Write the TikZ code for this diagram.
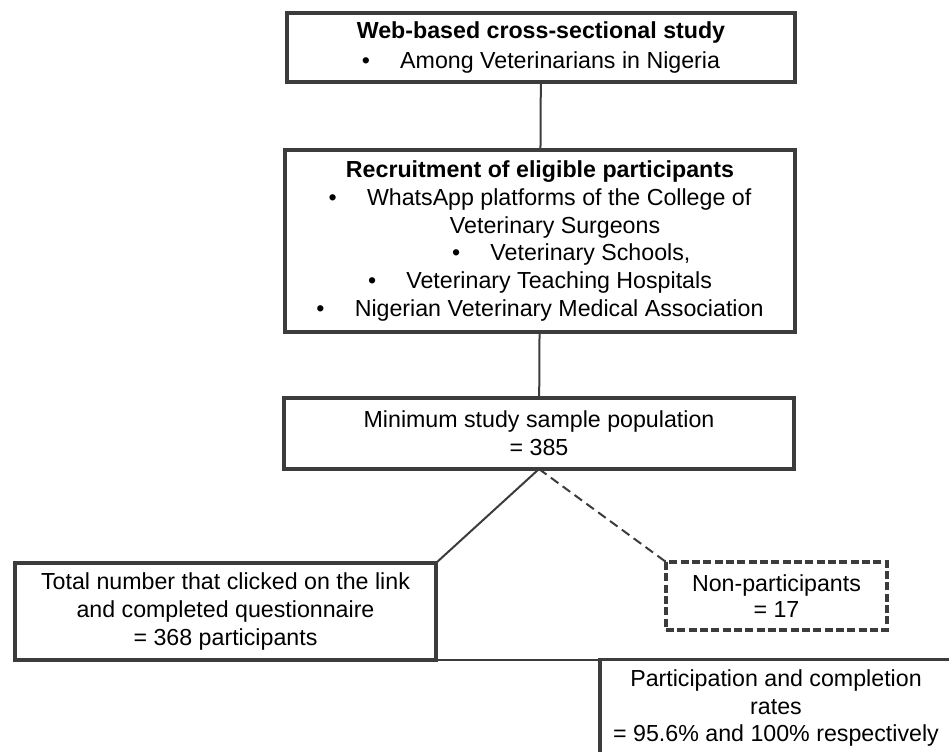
\documentclass[tikz,border=0pt]{standalone}
\usepackage{fontspec}
\setmainfont{Liberation Sans}
\definecolor{boxgray}{HTML}{3C3C3C}

\begin{document}
\begin{tikzpicture}[x=0.75pt, y=-0.75pt,
    box/.style={draw=boxgray, line width=2.3pt, align=center, inner sep=0pt, outer sep=0pt, font=\fontsize{17.4pt}{20.8pt}\selectfont},
    link/.style={draw=boxgray, line width=1.5pt}]
    \clip(0,0)rectangle(949,752);
    \node[box, minimum width=381pt, minimum height=51.75pt](study) at (541,47.5){\textbf{Web-based cross-sectional study}\\[1.5pt] •\hspace{1.3em}Among Veterinarians in Nigeria};
    \node[box, minimum width=382.5pt, minimum height=136.5pt](recruit) at (540,241){\textbf{Recruitment of eligible participants}\\
        •\hspace{1.3em}WhatsApp platforms of the College of\\
        \hspace*{1.3em}Veterinary Surgeons\\
        \hspace*{2.7em}•\hspace{1.3em}Veterinary Schools,\\
        •\hspace{1.3em}Veterinary Teaching Hospitals\\
        •\hspace{1.3em}Nigerian Veterinary Medical Association};
    \node[box, minimum width=382.5pt, minimum height=53.25pt](sample) at (539,433.5){Minimum study sample population\\= 385};
    \node[box, minimum width=315.75pt, minimum height=72.75pt](total) at (225.5,611.5){Total number that clicked on the link\\and completed questionnaire\\= 368 participants};
    \node[box, dash pattern=on 6pt off 2.5pt, minimum width=165.75pt, minimum height=51pt](nonpart) at (776.5,596){Non-participants\\[-1.5pt]= 17};
    \node[box, minimum width=264pt, minimum height=72.75pt](rates) at (776,708){Participation and completion\\rates\\= 95.6\% and 100\% respectively};
    \draw[link](study)--(recruit);
    \draw[link](recruit)--(sample);
    \draw[link](sample.south)--(total.north east);
    \draw[link, dash pattern=on 7pt off 4pt](sample.south)--(nonpart.north west);
    \draw[link](total.south east)--(total.south east -| rates.west);
\end{tikzpicture}
\end{document}
